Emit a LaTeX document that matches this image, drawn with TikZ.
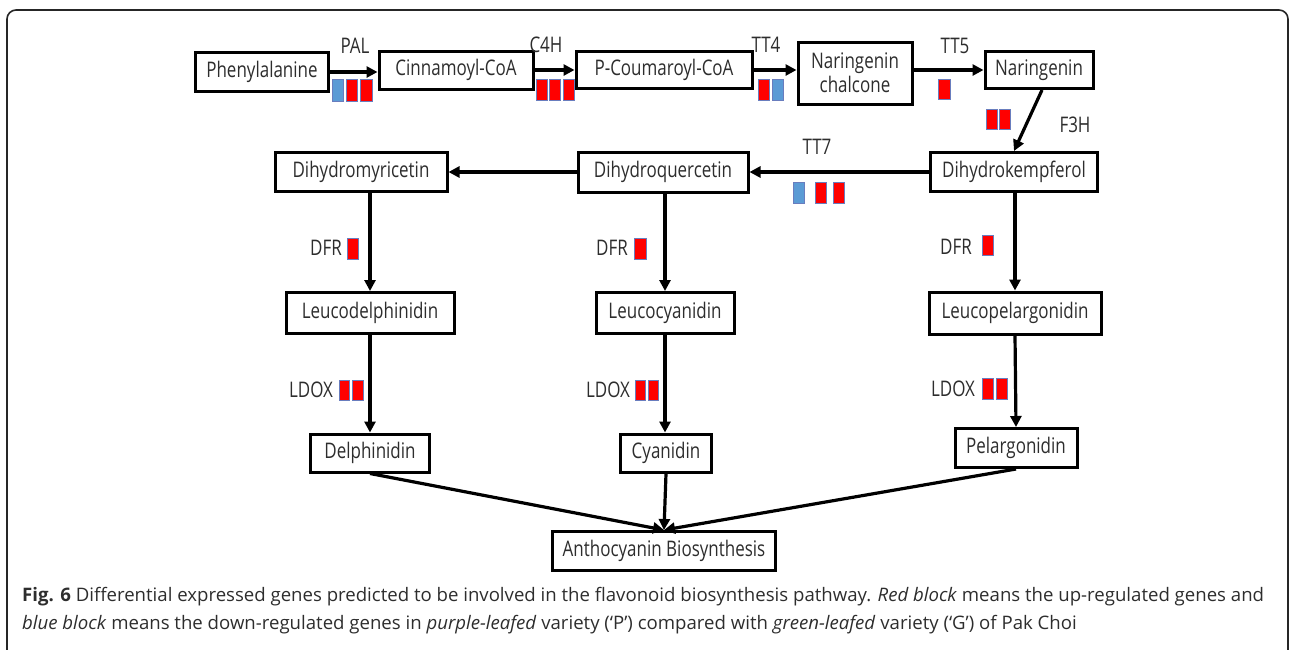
\documentclass[tikz,border=0pt]{standalone}
\usepackage{fontspec}
\setmainfont{Open Sans}
\newfontfamily\diagfont[FakeStretch=0.79]{Open Sans}
\usetikzlibrary{arrows.meta}
\definecolor{upred}{RGB}{255,0,0}
\definecolor{downblue}{RGB}{91,155,213}
\definecolor{blkedge}{RGB}{105,125,190}
\definecolor{txt}{RGB}{45,45,45}
\tikzset{
  box/.style={draw=black, line width=3pt, inner sep=0pt, text=txt,
    font=\diagfont\fontsize{21.5}{24}\selectfont, align=center},
  arr/.style={draw=black, line width=3.2pt, -{Triangle[length=11pt,width=11pt]}},
  lab/.style={inner sep=0pt, text=txt, font=\diagfont\fontsize{21.5}{24}\selectfont},
  upblk/.style={fill=upred, draw=blkedge, line width=0.6pt},
  downblk/.style={fill=downblue, draw=blkedge, line width=0.6pt},
  captxt/.style={inner sep=0pt, text=txt, font=\fontsize{18.6}{21}\selectfont, anchor=base west}
}
\begin{document}
\begin{tikzpicture}[x=1pt,y=-1pt]
\useasboundingbox (0,0) rectangle (1292,649);
\begin{scope}
\clip (0,0) rectangle (1292,649);
\draw[line width=1.6pt, rounded corners=9pt, black!85] (7,720) -- (7,10) -- (1288,10) -- (1288,720);
\end{scope}

% nodes
\node[box, minimum width=133pt, minimum height=39pt] (phe) at (262,72) {Phenylalanine};
\node[box, minimum width=154pt, minimum height=38pt] (cin) at (456,70) {Cinnamoyl-CoA};
\node[box, minimum width=176pt, minimum height=37pt] (cou) at (664,70) {P-Coumaroyl-CoA};
\node[box, minimum width=114pt, minimum height=62pt] (chal) at (855,73) {Naringenin\\chalcone};
\node[box, minimum width=108pt, minimum height=37pt] (nar) at (1039,70) {Naringenin};
\node[box, minimum width=167pt, minimum height=39pt] (dhk) at (1014,172) {Dihydrokempferol};
\node[box, minimum width=170pt, minimum height=40pt] (dhq) at (663,172) {Dihydroquercetin};
\node[box, minimum width=172pt, minimum height=39pt] (dhm) at (361,172) {Dihydromyricetin};
\node[box, minimum width=168pt, minimum height=41pt] (lcd) at (370,313) {Leucodelphinidin};
\node[box, minimum width=138pt, minimum height=41pt] (lcc) at (665,313) {Leucocyanidin};
\node[box, minimum width=172pt, minimum height=42pt] (lcp) at (1015,313) {Leucopelargonidin};
\node[box, minimum width=119pt, minimum height=38pt] (del) at (370,453) {Delphinidin};
\node[box, minimum width=91pt, minimum height=38pt] (cya) at (666,453) {Cyanidin};
\node[box, minimum width=122pt, minimum height=39pt] (pel) at (1016,448) {Pelargonidin};
\node[box, minimum width=223pt, minimum height=39pt] (ant) at (664,551) {Anthocyanin Biosynthesis};

% connectors
\draw[arr] (phe.east) -- (phe.east -| cin.west);
\draw[arr] (cin.east) -- (cin.east -| cou.west);
\draw[arr] (cou.east) -- (cou.east -| chal.west);
\draw[arr] (nar.west -| chal.east) -- (nar.west);
\draw[arr] ([xshift=3pt]nar.south) -- (dhk.north);
\draw[arr] (dhk.west) -- (dhq.east);
\draw[arr] (dhq.west) -- (dhm.east);
\draw[arr] (lcd.north |- dhm.south) -- (lcd.north);
\draw[arr] (lcc.north |- dhq.south) -- (lcc.north);
\draw[arr] (lcp.north |- dhk.south) -- (lcp.north);
\draw[arr] (lcd.south) -- (del.north);
\draw[arr] (lcc.south) -- (lcc.south |- cya.north);
\draw[arr] (lcp.south) -- (pel.north);
\draw[arr] (del.south) -- (ant.north);
\draw[arr] (cya.south) -- (ant.north);
\draw[arr] (pel.south) -- (ant.north);

% enzyme labels
\node[lab] (pal) at (355,46) {PAL};
\node[lab] (c4h) at (546,45) {C4H};
\node[lab] (tt4) at (766,45) {TT4};
\node[lab] (tt5) at (955,46) {TT5};
\node[lab] (f3h) at (1075,125) {F3H};
\node[lab] (tt7) at (817,147) {TT7};
\node[lab] (dfr1) at (326,248) {DFR};
\node[lab] (dfr2) at (612,248) {DFR};
\node[lab] (dfr3) at (956,247) {DFR};
\node[lab] (ldox1) at (311,390) {LDOX};
\node[lab] (ldox2) at (608,390) {LDOX};
\node[lab] (ldox3) at (953,389) {LDOX};

% expression blocks
\path[downblk] (332,79) rectangle (343,101);
\path[upblk] (346,79) rectangle (357,101);
\path[upblk] (360,79) rectangle (372,101);
\path[upblk] (536,79) rectangle (547,100);
\path[upblk] (549,79) rectangle (560,100);
\path[upblk] (563,79) rectangle (574,100);
\path[upblk] (758,79) rectangle (769,100);
\path[downblk] (772,79) rectangle (783,100);
\path[upblk] (938,79) rectangle (950,99);
\path[upblk] (986,109) rectangle (997,129);
\path[upblk] (999,109) rectangle (1010,129);
\path[downblk] (793,182) rectangle (804,203);
\path[upblk] (815,182) rectangle (826,203);
\path[upblk] (833,182) rectangle (844,203);
\path[upblk] (347,238) rectangle (358,259);
\path[upblk] (634,238) rectangle (646,259);
\path[upblk] (982,235) rectangle (993,255);
\path[upblk] (339,380) rectangle (349,400);
\path[upblk] (352,380) rectangle (363,400);
\path[upblk] (635,380) rectangle (645,400);
\path[upblk] (648,380) rectangle (658,400);
\path[upblk] (982,378) rectangle (993,399);
\path[upblk] (996,378) rectangle (1007,399);

% caption
\node[captxt] (cap1) at (22,601) {\textbf{Fig. 6} Differential expressed genes predicted to be involved in the flavonoid biosynthesis pathway. \textit{Red block} means the up-regulated genes and};
\node[captxt] (cap2) at (22,629) {\textit{blue block} means the down-regulated genes in \textit{purple-leafed} variety (‘P’) compared with \textit{green-leafed} variety (‘G’) of Pak Choi};
\end{tikzpicture}
\end{document}
